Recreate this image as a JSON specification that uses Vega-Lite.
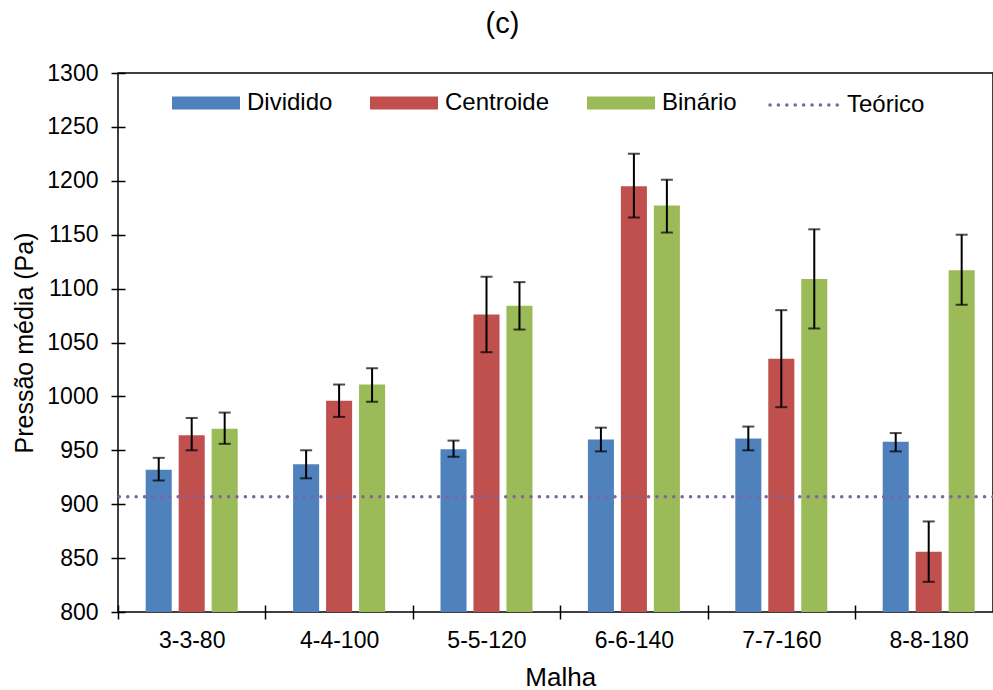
{
  "$schema": "https://vega.github.io/schema/vega-lite/v6.json",
  "width": 875,
  "height": 539,
  "autosize": {"type": "none"},
  "padding": {"left": 118, "top": 73, "right": 0, "bottom": 78},
  "background": "white",
  "config": {
    "view": {"stroke": "#000", "strokeWidth": 1.5},
    "font": "Liberation Sans"
  },
  "title": {
    "text": "(c)",
    "font": "Liberation Sans",
    "fontSize": 29,
    "fontWeight": "normal",
    "color": "#000",
    "anchor": "middle",
    "frame": "group",
    "baseline": "alphabetic",
    "dx": -53,
    "offset": 0
  },
  "datasets": {
    "barras": [
      {"malha": "3-3-80", "serie": "Dividido", "valor": 932, "lo": 922, "hi": 943},
      {"malha": "3-3-80", "serie": "Centroide", "valor": 964, "lo": 950, "hi": 980},
      {"malha": "3-3-80", "serie": "Binário", "valor": 970, "lo": 956, "hi": 985},
      {"malha": "4-4-100", "serie": "Dividido", "valor": 937, "lo": 924, "hi": 950},
      {"malha": "4-4-100", "serie": "Centroide", "valor": 996, "lo": 981, "hi": 1011},
      {"malha": "4-4-100", "serie": "Binário", "valor": 1011, "lo": 995, "hi": 1026},
      {"malha": "5-5-120", "serie": "Dividido", "valor": 951, "lo": 944, "hi": 959},
      {"malha": "5-5-120", "serie": "Centroide", "valor": 1076, "lo": 1041, "hi": 1111},
      {"malha": "5-5-120", "serie": "Binário", "valor": 1084, "lo": 1062, "hi": 1106},
      {"malha": "6-6-140", "serie": "Dividido", "valor": 960, "lo": 949, "hi": 971},
      {"malha": "6-6-140", "serie": "Centroide", "valor": 1195, "lo": 1166, "hi": 1225},
      {"malha": "6-6-140", "serie": "Binário", "valor": 1177, "lo": 1152, "hi": 1201},
      {"malha": "7-7-160", "serie": "Dividido", "valor": 961, "lo": 950, "hi": 972},
      {"malha": "7-7-160", "serie": "Centroide", "valor": 1035, "lo": 990, "hi": 1080},
      {"malha": "7-7-160", "serie": "Binário", "valor": 1109, "lo": 1063, "hi": 1155},
      {"malha": "8-8-180", "serie": "Dividido", "valor": 958, "lo": 949, "hi": 966},
      {"malha": "8-8-180", "serie": "Centroide", "valor": 856, "lo": 828, "hi": 884},
      {"malha": "8-8-180", "serie": "Binário", "valor": 1117, "lo": 1085, "hi": 1150}
    ],
    "teorico": [
      {"serie": "Teórico", "valor": 907}
    ]
  },
  "layer": [
    {
      "data": {"name": "barras"},
      "mark": {"type": "bar"},
      "encoding": {
        "x": {
          "field": "malha",
          "type": "nominal",
          "sort": null,
          "title": "Malha",
          "scale": {"range": [0, 884.4], "paddingInner": 0, "paddingOuter": 0},
          "axis": {
            "domain": false,
            "offset": -7,
            "tickSize": 14,
            "tickBand": "extent",
            "tickColor": "#000",
            "tickWidth": 1.5,
            "labelAngle": 0,
            "labelFont": "Liberation Sans",
            "labelFontSize": 23,
            "labelColor": "#000",
            "labelPadding": 10,
            "titleFont": "Liberation Sans",
            "titleFontSize": 26,
            "titleFontWeight": "normal",
            "titleColor": "#000",
            "titlePadding": 12,
            "grid": false
          }
        },
        "xOffset": {
          "field": "serie",
          "type": "nominal",
          "sort": ["Dividido", "Centroide", "Binário"],
          "scale": {"paddingInner": 0.21, "paddingOuter": 0.84}
        },
        "y": {
          "field": "valor",
          "type": "quantitative",
          "title": "Pressão média (Pa)",
          "scale": {"domain": [800, 1300], "zero": false, "nice": false},
          "axis": {
            "values": [800, 850, 900, 950, 1000, 1050, 1100, 1150, 1200, 1250, 1300],
            "format": "d",
            "domain": false,
            "offset": -7,
            "tickSize": 14,
            "tickColor": "#000",
            "tickWidth": 1.5,
            "labelFont": "Liberation Sans",
            "labelFontSize": 23,
            "labelColor": "#000",
            "labelPadding": 13,
            "titleFont": "Liberation Sans",
            "titleFontSize": 25,
            "titleFontWeight": "normal",
            "titleColor": "#000",
            "titlePadding": 9,
            "grid": false
          }
        },
        "y2": {"datum": 800},
        "fill": {
          "field": "serie",
          "type": "nominal",
          "scale": {
            "domain": ["Dividido", "Centroide", "Binário"],
            "range": ["#4F81BD", "#C0504D", "#9BBB59"]
          },
          "legend": {
            "orient": "none",
            "legendX": 54,
            "legendY": -4,
            "direction": "horizontal",
            "title": null,
            "symbolType": "M-1,-0.19H1V0.19H-1Z",
            "symbolSize": 4624,
            "symbolStrokeWidth": 0,
            "symbolOpacity": 1,
            "labelFont": "Liberation Sans",
            "labelFontSize": 24,
            "labelColor": "#000",
            "labelOffset": 7,
            "columnPadding": 37,
            "padding": 0
          }
        }
      }
    },
    {
      "data": {"name": "barras"},
      "mark": {"type": "rule", "color": "#000", "strokeWidth": 2},
      "encoding": {
        "x": {"field": "malha", "type": "nominal", "sort": null},
        "xOffset": {"field": "serie", "type": "nominal", "sort": ["Dividido", "Centroide", "Binário"]},
        "y": {"field": "lo", "type": "quantitative"},
        "y2": {"field": "hi"}
      }
    },
    {
      "data": {"name": "barras"},
      "mark": {"type": "tick", "color": "#000", "thickness": 2, "size": 12, "orient": "horizontal"},
      "encoding": {
        "x": {"field": "malha", "type": "nominal", "sort": null},
        "xOffset": {"field": "serie", "type": "nominal", "sort": ["Dividido", "Centroide", "Binário"]},
        "y": {"field": "lo", "type": "quantitative"}
      }
    },
    {
      "data": {"name": "barras"},
      "mark": {"type": "tick", "color": "#000", "thickness": 2, "size": 12, "orient": "horizontal"},
      "encoding": {
        "x": {"field": "malha", "type": "nominal", "sort": null},
        "xOffset": {"field": "serie", "type": "nominal", "sort": ["Dividido", "Centroide", "Binário"]},
        "y": {"field": "hi", "type": "quantitative"}
      }
    },
    {
      "data": {"name": "teorico"},
      "mark": {"type": "rule", "strokeWidth": 3.5, "strokeDash": [0.1, 8.3], "strokeCap": "round"},
      "encoding": {
        "y": {"field": "valor", "type": "quantitative"},
        "stroke": {
          "field": "serie",
          "type": "nominal",
          "scale": {"domain": ["Teórico"], "range": ["#8064A2"]},
          "legend": {
            "orient": "none",
            "legendX": 650,
            "legendY": -4,
            "direction": "horizontal",
            "title": null,
            "symbolType": "stroke",
            "symbolSize": 4624,
            "symbolStrokeWidth": 3.5,
            "symbolDash": [0.1, 8.3],
            "labelFont": "Liberation Sans",
            "labelFontSize": 24,
            "labelColor": "#000",
            "labelOffset": 7,
            "padding": 0,
            "encode": {"symbols": {"update": {"strokeCap": {"value": "round"}}}}
          }
        }
      }
    }
  ]
}
